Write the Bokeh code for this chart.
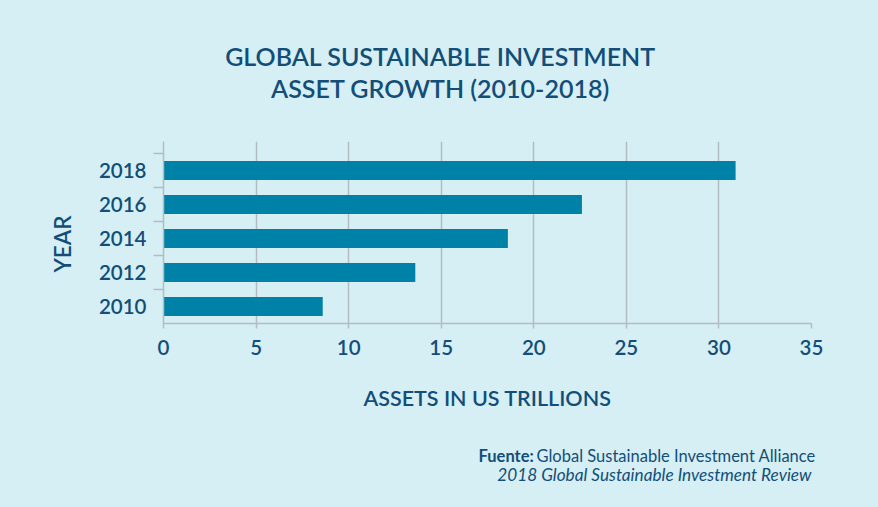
from bokeh.plotting import figure
from bokeh.layouts import column, row
from bokeh.models import ColumnDataSource, FixedTicker, Range1d, Label
from bokeh.embed import file_html
from bokeh.resources import INLINE

# Data: global sustainable investment assets (US$ trillions)
years = ["2010", "2012", "2014", "2016", "2018"]
assets = [8.6, 13.6, 18.6, 22.6, 30.9]
x_ticks = [0, 5, 10, 15, 20, 25, 30, 35]

BG = "#D5EFF5"
BAR = "#0081A7"
TEXT = "#124E78"
GRID = "#B3BCC1"
FONT = "Lato"
FONT_MED = "Lato Semibold"

W, H = 878, 507
TOP_H, MID_H = 120, 300          # title strip, chart strip; rest is the source strip
BOT_H = H - TOP_H - MID_H
LEFT_W = 90                      # strip holding the vertical axis title
FL, FR, FT, FB = 163, 811, 141, 323  # plot frame edges on the page, pixels
X0, X1 = 0, 35
Y0, Y1 = -0.5, 4.5 + (153 - FT) / 34.0


def strip(w, h):
    """Blank canvas whose data coordinates equal its pixels (y up)."""
    f = figure(width=w, height=h, output_backend="svg", toolbar_location=None,
               x_range=Range1d(0, w), y_range=Range1d(0, h),
               x_axis_type=None, y_axis_type=None, min_border=0)
    f.background_fill_color = BG
    f.border_fill_color = BG
    f.outline_line_color = None
    f.grid.visible = False
    return f


def note(f, text, x, y, size, align="center", style="normal", angle=0,
         font=FONT):
    f.add_layout(Label(x=x, y=f.height - y, text=text,
                       text_align=align, text_baseline="middle",
                       text_font=font, text_font_size=size,
                       text_font_style=style, text_color=TEXT, angle=angle))


# --- title strip
top = strip(W, TOP_H)
note(top, "GLOBAL SUSTAINABLE INVESTMENT", 440, 55, "25px", font=FONT_MED)
note(top, "ASSET GROWTH (2010-2018)", 440, 87, "25px", font=FONT_MED)

# --- vertical axis title
left = strip(LEFT_W, MID_H)
note(left, "YEAR", 62, 241 - TOP_H + 48, "22.5px", angle=1.5707963, font=FONT_MED)

# --- bar chart
pos = list(range(len(years)))
src = ColumnDataSource(dict(y=pos, right=assets, year=years))

p = figure(width=W - LEFT_W, height=MID_H, output_backend="svg",
           toolbar_location=None,
           x_range=Range1d(X0, X1), y_range=Range1d(Y0, Y1),
           min_border_left=FL - LEFT_W, min_border_right=W - FR,
           min_border_top=FT - TOP_H, min_border_bottom=TOP_H + MID_H - FB)
p.background_fill_color = BG
p.border_fill_color = BG
p.outline_line_color = None

p.hbar(y="y", left=0, right="right", height=0.56, source=src,
       fill_color=BAR, line_color=None)

xa = p.xaxis[0]
xa.ticker = FixedTicker(ticks=x_ticks, minor_ticks=[])
xa.axis_line_color = GRID
xa.axis_line_width = 1.5
xa.major_tick_line_color = GRID
xa.major_tick_line_width = 1.5
xa.major_tick_out = 5
xa.major_tick_in = 0
xa.minor_tick_line_color = None
xa.major_label_text_font = FONT_MED
xa.major_label_text_font_size = "20.5px"
xa.major_label_text_color = TEXT
xa.major_label_standoff = 11
xa.axis_label = "ASSETS IN US TRILLIONS"
xa.axis_label_text_font = FONT_MED
xa.axis_label_text_font_size = "21.5px"
xa.axis_label_text_font_style = "normal"
xa.axis_label_text_color = TEXT
xa.axis_label_standoff = 27

# year labels sit on the bars, ticks mark the band boundaries
ya = p.yaxis[0]
ya.ticker = FixedTicker(ticks=pos, minor_ticks=[0.5, 1.5, 2.5, 3.5, 4.5])
ya.major_label_overrides = {i: y for i, y in zip(pos, years)}
ya.axis_line_color = GRID
ya.axis_line_width = 1.5
ya.major_tick_line_color = None
ya.major_tick_out = 0
ya.major_tick_in = 0
ya.minor_tick_line_color = GRID
ya.minor_tick_line_width = 1.5
ya.minor_tick_out = 10
ya.minor_tick_in = 0
ya.major_label_text_font = FONT_MED
ya.major_label_text_font_size = "20.5px"
ya.major_label_text_color = TEXT
ya.major_label_standoff = 7

p.xgrid.ticker = FixedTicker(ticks=x_ticks)
p.xgrid.grid_line_color = GRID
p.xgrid.grid_line_width = 1.5
p.ygrid.grid_line_color = None

# --- source strip
bot = strip(W, BOT_H)
note(bot, "Fuente:", 478, 455 - TOP_H - MID_H, "16.5px", align="left", style="bold")
note(bot, "Global Sustainable Investment Alliance", 536, 455 - TOP_H - MID_H,
     "16.5px", align="left")
note(bot, "2018 Global Sustainable Investment Review", 811, 474 - TOP_H - MID_H,
     "17.2px", align="right", style="italic")

page = column(top, row(left, p, spacing=0), bot, spacing=0)
page.styles = {"background-color": BG}

open("out.html", "w").write(file_html(page, INLINE))
